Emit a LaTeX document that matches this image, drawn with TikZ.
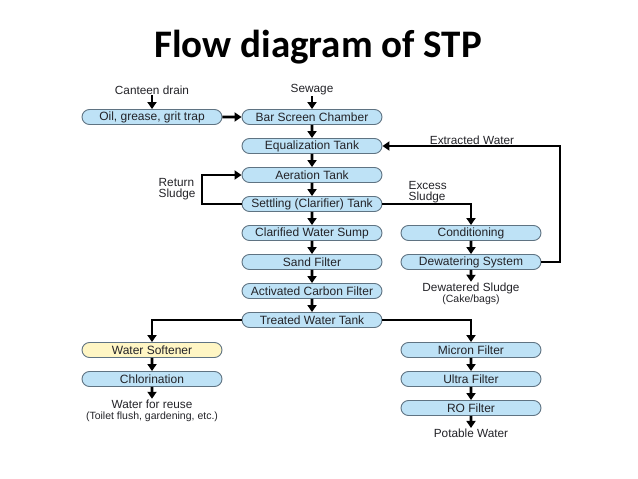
\documentclass[tikz,border=0pt]{standalone}
\usepackage{fontspec}
\setmainfont{Liberation Sans}
\newfontfamily\titlefont{Carlito}
\usetikzlibrary{arrows.meta,shapes.misc}
\definecolor{boxblue}{RGB}{190,226,246}
\definecolor{boxyellow}{RGB}{255,246,196}
\definecolor{boxline}{RGB}{95,115,130}
\definecolor{txt}{RGB}{35,35,40}
\begin{document}
\begin{tikzpicture}[x=1pt,y=-1pt,
 box/.style={rounded rectangle, draw=boxline, line width=0.9pt, fill=boxblue, minimum width=140pt, minimum height=15pt, inner sep=0pt, font=\fontsize{12}{13}\selectfont, text=txt},
 ybox/.style={box, fill=boxyellow},
 lbl/.style={font=\fontsize{11.8}{13}\selectfont, text=txt, inner sep=0.5pt, align=center},
 slbl/.style={font=\fontsize{10.5}{11}\selectfont, text=txt, inner sep=0.5pt, align=center},
 arr/.style={line width=2.6pt, -{Triangle[width=9pt,length=7pt]}}]
\useasboundingbox (0,0) rectangle (638,479);
\fill[white] (0,0) rectangle (638,479);
\node[font=\titlefont\bfseries\fontsize{39}{40}\selectfont, anchor=base] (title) at (318,57) {Flow diagram of STP};

% labels
\node[lbl] (canteen) at (152,90) {Canteen drain};
\node[lbl] (sewage) at (312,90) {Sewage};

% main column
\node[box] (oil) at (152,117) {Oil, grease, grit trap};
\node[box] (bar) at (312,117) {Bar Screen Chamber};
\node[box] (eq) at (312,146) {Equalization Tank};
\node[box] (aer) at (312,175) {Aeration Tank};
\node[box] (set) at (312,204) {Settling (Clarifier) Tank};
\node[box] (clar) at (312,233) {Clarified Water Sump};
\node[box] (sand) at (312,262) {Sand Filter};
\node[box] (carbon) at (312,291) {Activated Carbon Filter};
\node[box] (treat) at (312,320) {Treated Water Tank};

% sludge column
\node[box] (cond) at (471,233) {Conditioning};
\node[box] (dew) at (471,262) {Dewatering System};
\node[lbl, anchor=base] (dewtext) at (471,291) {Dewatered Sludge};
\node[slbl, anchor=base] (cake) at (471,302) {(Cake/bags)};

% left branch
\node[ybox] (soft) at (152,350) {Water Softener};
\node[box] (chlor) at (152,379) {Chlorination};
\node[lbl, anchor=base] (reuse) at (152,408) {Water for reuse};
\node[slbl, anchor=base] (toilet) at (152,419) {(Toilet flush, gardening, etc.)};

% right branch
\node[box] (micron) at (471,350) {Micron Filter};
\node[box] (ultra) at (471,379) {Ultra Filter};
\node[box] (ro) at (471,408) {RO Filter};
\node[lbl] (potable) at (471,433) {Potable Water};

% side labels
\node[lbl] (extr) at (472,140) {Extracted Water};
\node[lbl, align=left, anchor=west] (excess) at (408,192) {Excess\\[-2.5pt]Sludge};
\node[lbl, align=left, anchor=west] (ret) at (158,189) {Return\\[-2.5pt]Sludge};

% coordinates
\coordinate (ewc) at (560,146);
\coordinate (rsb) at (202,204);
\coordinate (rst) at (202,175);

% arrows
\draw[arr] (canteen) -- (oil);
\draw[arr] (sewage) -- (bar);
\draw[arr] (oil) -- (bar);
\draw[arr] (bar) -- (eq);
\draw[arr] (eq) -- (aer);
\draw[arr] (aer) -- (set);
\draw[arr] (set) -- (clar);
\draw[arr] (clar) -- (sand);
\draw[arr] (sand) -- (carbon);
\draw[arr] (carbon) -- (treat);
\draw[arr] (set.west) -- (rsb) -- (rst) -- (aer.west);
\draw[arr] (set.east) -| (cond.north);
\draw[arr] (cond) -- (dew);
\draw[arr] (dew) -- (dewtext.north);
\draw[arr] (dew.east) -| (ewc) -- (eq.east);
\draw[arr] (treat.west) -| (soft.north);
\draw[arr] (treat.east) -| (micron.north);
\draw[arr] (soft) -- (chlor);
\draw[arr] (chlor) -- (reuse.north);
\draw[arr] (micron) -- (ultra);
\draw[arr] (ultra) -- (ro);
\draw[arr] (ro) -- (potable);
\end{tikzpicture}
\end{document}
